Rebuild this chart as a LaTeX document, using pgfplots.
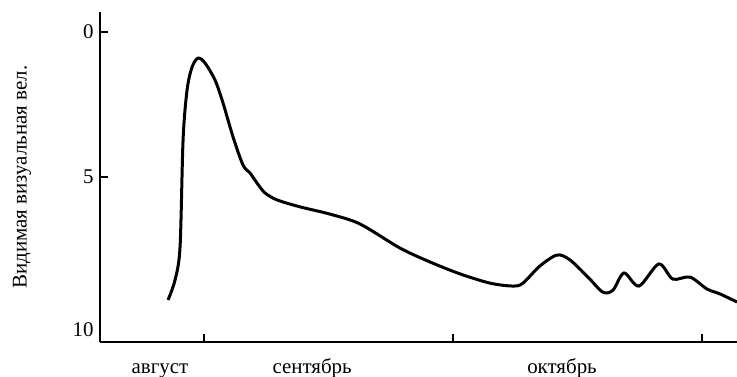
\documentclass[border=0pt]{standalone}
\usepackage{pgfplots}
\pgfplotsset{compat=1.18}
\usepackage{fontspec}
\setmainfont{Liberation Serif}
\newcommand\lbl{\fontsize{21}{25}\selectfont}

\begin{document}
\begin{tikzpicture}
\begin{axis}[
    scale only axis,
    width=637bp, height=330bp,
    at={(0,0)}, anchor=south west,
    tick label style={font=\lbl},
    axis x line=bottom, axis y line=left,
    axis line style={-, line width=1.3bp},
    y dir=reverse,
    xmin=-0.418, xmax=2.141,
    ymin=-0.69, ymax=10.69,
    ytick={0,5}, yticklabels={0,5},
    extra y ticks={10.28}, extra y tick labels={10},
    extra y tick style={major tick length=0pt},
    xtick={0,1,2}, xticklabels={},
    extra x ticks={-0.177,0.434,1.438},
    extra x tick labels={август,сентябрь,октябрь},
    extra x tick style={major tick length=0pt, xticklabel style={yshift=-13bp, text height=15bp, text depth=4bp}},
    tick align=inside,
    major tick length=8bp,
    tick style={line width=1.3bp, black},
    /pgf/number format/assume math mode=true,
    yticklabel style={xshift=-3bp},
    ylabel={Видимая визуальная вел.},
    every axis y label/.style={at={(axis description cs:0,0.5)}, xshift=-78bp, rotate=90, anchor=center, font=\lbl},
    clip=false,
]
\addplot[black, line width=3bp, smooth, tension=0.5] coordinates {
(-0.1446,9.24) (-0.1165,8.55) (-0.0964,7.41) (-0.0843,3.72) (-0.0683,2.00)
(-0.0482,1.21) (-0.0241,0.90) (0.0040,1.07) (0.0442,1.66) (0.0763,2.45)
(0.1165,3.62) (0.1566,4.59) (0.1847,4.86) (0.2129,5.21) (0.2450,5.55)
(0.2932,5.79) (0.3855,6.03) (0.506,6.28) (0.6265,6.62) (0.787,7.45)
(0.9076,7.93) (1.028,8.34) (1.149,8.66) (1.241,8.76) (1.281,8.66)
(1.349,8.07) (1.418,7.69) (1.470,7.86) (1.542,8.45) (1.602,8.97)
(1.643,8.90) (1.687,8.31) (1.747,8.76) (1.827,8.00) (1.883,8.52)
(1.952,8.45) (2.020,8.86) (2.072,9.03) (2.141,9.31)
};
\end{axis}
\pgfresetboundingbox
\path (-100bp,-35bp) rectangle (637bp,342bp);
\end{tikzpicture}
\end{document}
